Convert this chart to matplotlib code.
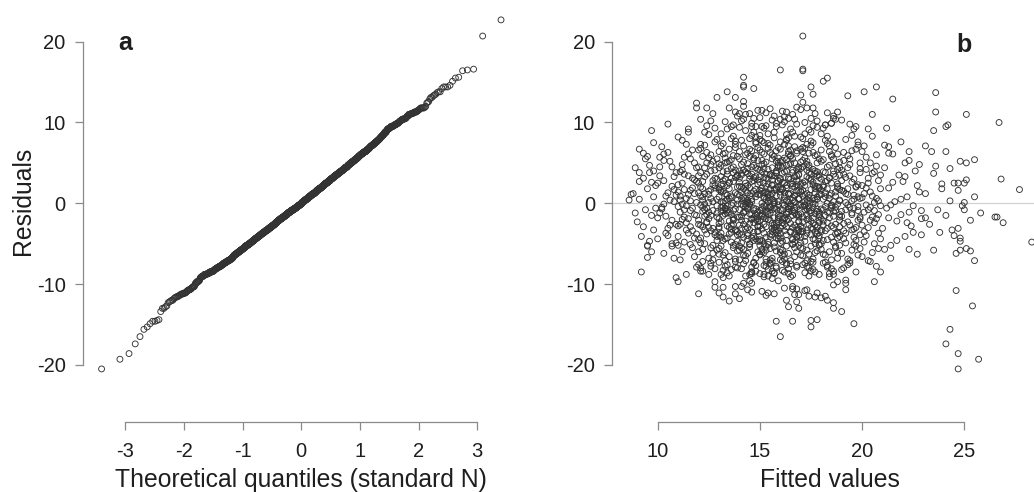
import matplotlib
matplotlib.use("Agg")
import matplotlib.pyplot as plt
from statistics import NormalDist

plt.rcParams['font.family'] = ['Liberation Sans', 'DejaVu Sans']

# Model diagnostics: (fitted value, residual) pairs, both stored in tenths.
cloud_09 = [
    (88, 12), (90, -23), (91, 5), (92, -41), (93, 31), (94, -8), (95, 18), (95, -52), (96, 47), (97, -15),
    (97, 26), (98, -33), (98, 8), (99, -6), (93, -29), (96, 38), (89, -12), (99, 22), (94, 55), (97, -60),
]
cloud_10 = [
    (100, -18), (101, 34), (102, -5), (103, 61), (104, -37), (105, 13), (106, -27), (107, 45), (108, 2), (109, -49),
    (100, 25), (101, -12), (102, 70), (103, -62), (104, 9), (105, -31), (106, 52), (107, -21), (108, 17), (109, 38),
    (100, -44), (102, -7), (103, 28), (104, -16), (105, 63), (106, 4), (107, -53), (108, 33), (109, -26), (101, 57),
    (103, -1), (105, -40), (107, 21), (108, -68), (109, 10),
]
cloud_11 = [
    (110, 14), (111, -26), (112, 48), (113, -8), (114, 73), (115, -37), (116, 3), (117, -55), (118, 29), (119, -15),
    (110, -41), (111, 9), (112, -20), (113, 36), (114, -3), (115, 61), (116, -29), (117, 19), (118, -66), (119, 44),
    (110, 82), (111, -11), (112, 25), (113, -48), (114, 6), (115, -19), (116, 55), (117, -34), (118, 12), (119, -79),
    (110, -4), (111, 39), (112, -60), (113, 17), (114, -24), (115, 92), (116, -9), (117, 31), (118, -43), (119, 1),
    (110, 23), (111, -70), (112, -1), (113, 57), (114, -33), (115, 11), (116, -51), (117, 66), (118, -14), (119, 27),
    (110, -28), (111, 4), (112, 41), (113, -17), (114, -88), (115, 34), (116, 16), (117, -6), (118, 50), (119, -38),
]
cloud_12 = [
    (120, 25), (121, -49), (122, 4), (123, -16), (124, 63), (125, -88), (126, 17), (127, -31), (128, 41), (129, -3),
    (120, -60), (121, 104), (122, -10), (123, 33), (124, -24), (125, 11), (126, -74), (127, 52), (128, -39), (129, 79),
    (120, -21), (121, 9), (122, -57), (123, 44), (124, -6), (125, 85), (126, -34), (127, 2), (128, -81), (129, 30),
    (120, 66), (121, -43), (122, 27), (123, -8), (124, 96), (125, -19), (126, 48), (127, -70), (128, 19), (129, -46),
    (120, 13), (121, -27), (122, 58), (123, -1), (124, 36), (125, -68), (126, 6), (127, -52), (128, 22), (129, -12),
    (120, -112), (121, 38), (122, -29), (123, 72), (124, -14), (125, 15), (126, -55), (127, 111), (128, -36), (129, 55),
    (120, -45), (121, 20), (122, -5), (123, 88), (124, -23), (125, 1), (126, 60), (127, -62), (128, 31), (129, -17),
    (120, 45), (121, -84), (122, 8), (123, -33), (124, 50), (125, -11), (126, -78), (127, 23), (128, 93), (129, -41),
    (120, 34), (121, -2), (122, -72), (123, 12), (124, -38), (125, 56), (126, -15), (127, 28), (128, -104), (129, 5),
    (120, -26), (121, 68), (122, 18), (123, -50), (124, 118), (125, -30), (126, 40), (127, -9), (128, 76), (129, -58),
]
cloud_13 = [
    (130, -40), (131, 16), (132, -83), (133, 3), (134, 51), (135, -22), (136, 95), (137, -9), (138, 32), (139, -59),
    (130, 64), (131, -5), (132, 24), (133, -71), (134, 10), (135, -30), (136, 43), (137, -18), (138, 77), (139, -47),
    (130, 8), (131, -53), (132, 39), (133, -13), (134, -76), (135, 26), (136, -2), (137, 83), (138, -34), (139, 20),
    (130, -25), (131, 47), (132, -64), (133, 101), (134, -12), (135, 6), (136, -36), (137, 59), (138, -79), (139, 35),
    (130, -29), (131, 71), (132, 1), (133, -44), (134, 22), (135, -90), (136, 54), (137, -20), (138, 13), (139, 108),
    (130, -56), (131, 14), (132, -4), (133, 30), (134, -43), (135, 67), (136, -27), (137, 45), (138, -7), (139, -80),
    (130, 49), (131, -10), (132, 28), (133, -61), (134, 5), (135, -38), (136, 80), (137, -21), (138, 41), (139, -1),
    (130, -73), (131, 33), (132, -15), (133, 62), (134, -86), (135, 18), (136, -32), (137, 97), (138, -51), (139, 11),
    (130, 19), (131, -42), (132, 74), (133, -6), (134, 36), (135, -66), (136, 9), (137, -26), (138, 113), (139, -17),
    (130, -31), (131, 2), (132, -116), (133, 56), (134, -8), (135, 25), (136, -48), (137, 38), (138, -69), (139, 58),
    (130, -19), (131, 86), (132, -46), (133, 12), (134, -3), (135, 52), (136, -82), (137, 27), (138, -33), (139, 4),
    (130, 44), (131, -23), (132, 15), (133, -78), (134, 92), (135, -11), (136, 31), (137, -55), (138, 69), (139, -39),
    (130, -63), (131, 23), (132, -9), (133, 50), (134, -28), (135, 118), (136, -14), (137, 0), (138, -72), (139, 34),
    (130, 17), (131, -37), (132, 61), (133, -7), (134, 40), (135, -121), (136, 7), (137, -52), (138, 73), (139, -35),
]
cloud_14 = [
    (140, 55), (141, -16), (142, 3), (143, -65), (144, 22), (145, -2), (146, 99), (147, -41), (148, 12), (149, -28),
    (140, -70), (141, 35), (142, -11), (143, 60), (144, -45), (145, 19), (146, -20), (147, 88), (148, -77), (149, 42),
    (140, -8), (141, 48), (142, -57), (143, 16), (144, -107), (145, 30), (146, 5), (147, -36), (148, 76), (149, -19),
    (140, 26), (141, -81), (142, 104), (143, -4), (144, 37), (145, -50), (146, 65), (147, -24), (148, 8), (149, -34),
    (140, 10), (141, -39), (142, 71), (143, -22), (144, 1), (145, -88), (146, 45), (147, -6), (148, 33), (149, -60),
    (140, -53), (141, 20), (142, -12), (143, 110), (144, -30), (145, 58), (146, -14), (147, 28), (148, -68), (149, 53),
    (140, -27), (141, 6), (142, -75), (143, 39), (144, -7), (145, 67), (146, -43), (147, 15), (148, -84), (149, 24),
    (140, 94), (141, -1), (142, 51), (143, -32), (144, 13), (145, -54), (146, 36), (147, -18), (148, 82), (149, -47),
    (140, -38), (141, 78), (142, -3), (143, 21), (144, -62), (145, 9), (146, -110), (147, 47), (148, -15), (149, 115),
    (140, 31), (141, -49), (142, 18), (143, -10), (144, 62), (145, -25), (146, 2), (147, -73), (148, 44), (149, -35),
    (140, 64), (141, -21), (142, 41), (143, -90), (144, 4), (145, -51), (146, 27), (147, -9), (148, 74), (149, -29),
    (140, -58), (141, 14), (142, -42), (143, 90), (144, -5), (145, 34), (146, -79), (147, 56), (148, -20), (149, 11),
    (140, -17), (141, 102), (142, -64), (143, 25), (144, -37), (145, 0), (146, -85), (147, 32), (148, -7), (149, 69),
    (140, 40), (141, -31), (142, 7), (143, -71), (144, 49), (145, -13), (146, 84), (147, -46), (148, 17), (149, -23),
    (140, 21), (141, -55), (142, 120), (143, -1), (144, 43), (145, -33), (146, 12), (147, -74), (148, 59), (149, -11),
    (140, -118), (141, 37), (142, -26), (143, 6), (144, -40), (145, 80), (146, -19), (147, 54), (148, -44), (149, 29),
]
cloud_15 = [
    (150, 41), (151, -8), (152, 75), (153, -29), (154, 2), (155, -56), (156, 23), (157, -87), (158, 17), (159, -40),
    (150, -15), (151, 63), (152, -3), (153, 96), (154, -48), (155, 10), (156, -72), (157, 34), (158, -24), (159, 50),
    (150, -63), (151, 19), (152, -37), (153, 5), (154, 86), (155, -21), (156, 55), (157, -1), (158, -80), (159, 27),
    (150, 106), (151, -46), (152, 13), (153, -69), (154, 30), (155, -12), (156, 60), (157, -33), (158, 38), (159, -18),
    (150, 26), (151, -109), (152, 8), (153, -42), (154, 68), (155, -5), (156, 44), (157, -27), (158, 99), (159, -10),
    (150, -52), (151, 15), (152, -77), (153, 36), (154, -14), (155, 72), (156, -31), (157, 1), (158, -59), (159, 47),
    (150, -9), (151, 39), (152, -61), (153, 112), (154, -20), (155, 4), (156, -84), (157, 58), (158, -36), (159, 20),
    (150, 79), (151, -16), (152, 32), (153, -53), (154, 11), (155, -75), (156, 22), (157, -6), (158, 52), (159, -34),
    (150, -45), (151, 0), (152, 93), (153, -19), (154, 42), (155, -70), (156, 12), (157, -30), (158, 65), (159, -2),
    (150, 16), (151, -57), (152, 49), (153, -11), (154, -90), (155, 35), (156, -25), (157, 81), (158, -43), (159, 28),
    (150, 66), (151, -32), (152, 6), (153, -73), (154, 24), (155, -4), (156, 103), (157, -49), (158, 9), (159, -23),
    (150, -64), (151, 53), (152, -17), (153, 31), (154, -82), (155, 18), (156, -39), (157, 88), (158, -7), (159, 45),
    (150, -28), (151, 77), (152, -50), (153, 14), (154, -6), (155, 117), (156, -35), (157, 3), (158, -78), (159, 56),
    (150, 33), (151, -13), (152, 61), (153, -114), (154, 7), (155, -41), (156, 29), (157, -54), (158, 37), (159, -20),
    (150, 11), (151, -60), (152, 25), (153, -3), (154, 74), (155, -38), (156, 5), (157, -86), (158, 40), (159, -15),
    (150, -47), (151, 95), (152, -26), (153, 51), (154, -10), (155, 36), (156, -68), (157, 17), (158, -29), (159, 69),
    (150, -22), (151, 48), (152, -88), (153, 21), (154, -51), (155, 63), (156, -8), (157, 108), (158, -33), (159, 2),
    (150, 84), (151, -5), (152, 43), (153, -58), (154, 13), (155, -74), (156, 34), (157, -18), (158, 19), (159, -44),
]
cloud_16 = [
    (160, -31), (161, 53), (162, -2), (163, 78), (164, -62), (165, 24), (166, -89), (167, 9), (168, 42), (169, -14),
    (160, 18), (161, -47), (162, 101), (163, -11), (164, 30), (165, -71), (166, 4), (167, -38), (168, 62), (169, -23),
    (160, 67), (161, -9), (162, 39), (163, -76), (164, 1), (165, -36), (166, 110), (167, -27), (168, 15), (169, -52),
    (160, -57), (161, 26), (162, -19), (163, 85), (164, -81), (165, 12), (166, -30), (167, 50), (168, -5), (169, 36),
    (160, 10), (161, -65), (162, 73), (163, -21), (164, 48), (165, -1), (166, -106), (167, 33), (168, -42), (169, 6),
    (160, -16), (161, 97), (162, -34), (163, 22), (164, -7), (165, 59), (166, -45), (167, 20), (168, -79), (169, 45),
    (160, -49), (161, 17), (162, -85), (163, 3), (164, 64), (165, -25), (166, 41), (167, -12), (168, 119), (169, -40),
    (160, 31), (161, -72), (162, 8), (163, -29), (164, 81), (165, -4), (166, 55), (167, -55), (168, 28), (169, -17),
    (160, 76), (161, -24), (162, 25), (163, -53), (164, 11), (165, -91), (166, 38), (167, -6), (168, -60), (169, 16),
    (160, -37), (161, 0), (162, -69), (163, 47), (164, -20), (165, 92), (166, -10), (167, 70), (168, -33), (169, 35),
    (160, -8), (161, 44), (162, -63), (163, 19), (164, -87), (165, 58), (166, -15), (167, 104), (168, -41), (169, 5),
    (160, 52), (161, -28), (162, 13), (163, -74), (164, 32), (165, -3), (166, 88), (167, -48), (168, 23), (169, -32),
    (160, -43), (161, 114), (162, -18), (163, 40), (164, -7), (165, 66), (166, -51), (167, 2), (168, -77), (169, 27),
    (160, 14), (161, -58), (162, 56), (163, -13), (164, 71), (165, -35), (166, 7), (167, -113), (168, 34), (169, -22),
    (160, 29), (161, -83), (162, 4), (163, -39), (164, 61), (165, -16), (166, 21), (167, -66), (168, 98), (169, -2),
    (160, -70), (161, 37), (162, -26), (163, 79), (164, -11), (165, 49), (166, -50), (167, 10), (168, -30), (169, 43),
    (160, -61), (161, 18), (162, -105), (163, 54), (164, -4), (165, 30), (166, -44), (167, 83), (168, -14), (169, 6),
    (160, 46), (161, -20), (162, 107), (163, -46), (164, 12), (165, -75), (166, 24), (167, -9), (168, 65), (169, -34),
]
cloud_17 = [
    (170, 51), (171, -17), (172, 100), (173, -37), (174, 3), (175, -72), (176, 26), (177, -1), (178, 60), (179, -24),
    (170, -49), (171, 16), (172, -86), (173, 33), (174, -10), (175, 77), (176, -32), (177, 40), (178, -59), (179, 11),
    (170, -13), (171, 64), (172, -41), (173, 5), (174, -90), (175, 36), (176, -5), (177, 111), (178, -29), (179, 20),
    (170, 82), (171, -56), (172, 22), (173, -78), (174, 47), (175, -12), (176, 42), (177, -27), (178, 8), (179, -52),
    (170, 15), (171, -35), (172, 68), (173, -7), (174, 31), (175, -84), (176, 0), (177, -45), (178, 94), (179, -21),
    (170, -64), (171, 45), (172, -3), (173, 73), (174, -19), (175, 28), (176, -69), (177, 13), (178, -38), (179, 55),
    (170, -42), (171, 9), (172, -74), (173, 48), (174, -6), (175, 105), (176, -25), (177, 18), (178, -111), (179, 35),
    (170, 24), (171, -31), (172, 86), (173, -15), (174, 62), (175, -53), (176, 6), (177, -61), (178, 39), (179, -11),
    (170, 116), (171, -23), (172, 2), (173, -58), (174, 44), (175, -9), (176, 75), (177, -36), (178, 21), (179, -88),
    (170, -2), (171, 53), (172, -47), (173, 12), (174, -80), (175, 30), (176, -18), (177, 59), (178, -34), (179, 19),
    (170, -28), (171, 80), (172, -8), (173, 41), (174, -63), (175, 17), (176, -82), (177, 4), (178, 50), (179, -40),
    (170, 67), (171, -4), (172, 27), (173, -71), (174, 10), (175, -30), (176, 96), (177, -50), (178, 34), (179, -14),
    (170, -55), (171, 25), (172, -108), (173, 1), (174, 38), (175, -22), (176, 63), (177, -13), (178, 102), (179, -43),
    (170, 14), (171, -76), (172, 56), (173, -33), (174, 7), (175, 88), (176, -44), (177, 37), (178, -7), (179, -16),
    (170, 43), (171, -65), (172, 11), (173, -20), (174, 91), (175, -39), (176, 23), (177, -85), (178, 5), (179, -51),
    (170, -35), (171, 69), (172, -3), (173, 52), (174, -26), (175, 72), (176, -73), (177, 21), (178, -10), (179, 32),
]
cloud_18 = [
    (180, -33), (181, 54), (182, -4), (183, 74), (184, -60), (185, 25), (186, -84), (187, 9), (188, 42), (189, -21),
    (180, 16), (181, -46), (182, 97), (183, -11), (184, 31), (185, -70), (186, 2), (187, -38), (188, 61), (189, -17),
    (180, 66), (181, -8), (182, 38), (183, -77), (184, 6), (185, -42), (186, 108), (187, -26), (188, 19), (189, -52),
    (180, -57), (181, 22), (182, -15), (183, 83), (184, -91), (185, 12), (186, -30), (187, 49), (188, -1), (189, 35),
    (180, 11), (181, -63), (182, 78), (183, -24), (184, 47), (185, -6), (186, -88), (187, 33), (188, -36), (189, 3),
    (180, -19), (181, 93), (182, -34), (183, 28), (184, -12), (185, 58), (186, -48), (187, 14), (188, -68), (189, 44),
    (180, -50), (181, 20), (182, -115), (183, 0), (184, 64), (185, -28), (186, 40), (187, -9), (188, 113), (189, -41),
    (180, 30), (181, -74), (182, 8), (183, -31), (184, 71), (185, -2), (186, 55), (187, -55), (188, 24), (189, -14),
    (180, 86), (181, -22), (182, 27), (183, -45), (184, 10), (185, -81), (186, 36), (187, -5), (188, -61), (189, 17),
    (180, -35), (181, 5), (182, -73), (183, 45), (184, -18), (185, 99), (186, -10), (187, 69), (188, -43), (189, 51),
    (180, -7), (181, 39), (182, -64), (183, 18), (184, -87), (185, 60), (186, -16), (187, 104), (188, -37), (189, 4),
    (180, 52), (181, -27), (182, 13), (183, -79), (184, 32), (185, -3), (186, 76), (187, -53), (188, 21), (189, -29),
]
cloud_19 = [
    (190, 41), (191, -25), (192, 79), (193, -2), (194, 34), (195, -58), (196, 10), (197, -85), (198, 23), (199, -39),
    (190, -16), (191, 63), (192, -49), (193, 18), (194, -71), (195, 3), (196, -32), (197, 95), (198, -9), (199, 50),
    (190, -62), (191, 15), (192, -107), (193, 44), (194, -5), (195, 26), (196, -42), (197, 67), (198, -21), (199, 6),
    (190, 103), (191, -34), (192, 12), (193, -76), (194, 55), (195, -12), (196, 30), (197, -46), (198, 72), (199, -19),
    (190, 28), (191, -44), (192, 1), (193, -69), (194, 48), (195, -14), (196, 92), (197, -30), (198, 8), (199, -56),
    (190, -82), (191, 36), (192, -8), (193, 59), (194, -27), (195, 84), (196, -51), (197, 20), (198, -4), (199, 38),
    (190, -10), (191, 53), (192, -37), (193, 11), (194, -74), (195, 65), (196, -6), (197, 21), (198, -64), (199, 43),
    (190, 16), (191, -80), (192, 32), (193, -23), (194, 98), (195, -33), (196, 5), (197, -53), (198, 76), (199, -17),
]
cloud_20 = [
    (200, 22), (201, -35), (202, 57), (203, -8), (204, 14), (205, -61), (206, 39), (207, -19), (208, 3), (209, -44),
    (200, -27), (201, 71), (202, -2), (203, 31), (204, -72), (205, 9), (206, -50), (207, 46), (208, -14), (209, 18),
    (200, 64), (201, -11), (202, -40), (203, 25), (204, -5), (205, 83), (206, -24), (207, 6), (208, -56), (209, 35),
    (200, -66), (201, 12), (202, 42), (203, -30), (204, 50), (205, -17), (206, 1), (207, -78), (208, 28), (209, -3),
    (200, 7), (201, -48), (202, 19), (203, 92), (204, -21), (205, 37), (206, -9), (207, 60), (208, -37), (209, -85),
]
cloud_21 = [
    (210, -31), (211, 44), (212, -6), (213, 19), (214, -52), (215, 61), (216, 2), (217, -22), (218, 35), (219, -14),
    (220, 27), (221, -41), (222, 8), (223, 53), (224, -28), (225, -3), (226, 40), (227, -63), (228, 14), (229, -9),
    (211, 72), (213, -18), (215, 26), (217, -46), (219, 5), (221, 33), (223, -11), (225, -36), (227, 22), (228, 48),
    (214, -2), (222, -24),
]
cloud_23 = [
    (231, 12), (233, -26), (235, 37), (237, -8), (239, 24), (241, -15), (243, 3), (245, -40), (247, 16), (249, -3),
    (251, 29), (253, -21), (255, 8), (236, 46), (244, -33), (248, 52), (258, -12),
]
upper_tail = [
    (171, 207), (160, 165), (171, 166), (171, 164), (142, 156), (142, 146), (142, 144), (147, 142), (175, 144),
    (176, 135), (181, 151), (183, 155), (193, 133), (201, 138), (207, 144), (215, 129), (236, 137), (236, 113),
    (251, 110), (267, 100), (268, 30), (277, 17), (255, 54), (251, 50), (250, 25), (241, 64), (241, 95), (242, 97),
    (235, 90), (231, 71), (234, 64), (219, 76), (223, 64), (221, 50), (212, 93), (213, 70), (213, 62), (205, 110),
    (250, 1), (243, 43), (245, 25), (247, 25), (239, 18),
]
left_edge = [
    (86, 4), (87, 11), (89, 44), (91, 38), (91, 27), (91, 67), (93, 62), (95, 58), (97, 90), (98, 75), (105, 98),
    (98, 40), (101, 45), (103, 53), (119, 124), (119, 118), (129, 131), (126, 102), (121, 73), (115, 88), (112, 78),
    (134, 138), (138, 131), (140, 111), (142, 126), (145, 111), (147, 105), (146, 95), (148, 95), (151, 115),
    (160, 104), (163, 113), (164, 105), (170, 134), (171, 125), (173, 118), (176, 118), (183, 112), (186, 105),
    (185, 99), (182, 97), (158, 95),
]
lower_tail = [
    (92, -85), (95, -67), (95, -53), (96, -47), (109, -92), (110, -97), (107, -50), (110, -52), (120, -76),
    (121, -80), (122, -84), (128, -97), (131, -88), (132, -92), (130, -111), (132, -104), (138, -103), (138, -112),
    (141, -103), (142, -99), (146, -85), (146, -87), (145, -96), (146, -99), (150, -87), (152, -91), (153, -78),
    (154, -111), (157, -112), (156, -93), (159, -96), (158, -146), (160, -165), (163, -120), (164, -128),
    (166, -146), (169, -130), (168, -122), (169, -113), (166, -103), (168, -106), (173, -107), (174, -115),
    (175, -145), (175, -153), (177, -116), (180, -117), (183, -120), (186, -123), (186, -130), (190, -134),
    (178, -144), (196, -149), (192, -99), (192, -95), (188, -97), (186, -101), (206, -97), (203, -71), (211, -57),
    (214, -68), (223, -57), (235, -58), (246, -108), (254, -127), (243, -156), (241, -174), (247, -186),
    (247, -205), (257, -193), (246, -62), (248, -58), (251, -56), (253, -59), (255, -71), (247, -31), (248, -43),
    (238, -36), (229, -39), (229, -19), (231, -18), (248, -47),
]
far_right = [(283, -48), (265, -17), (266, -17), (269, -24), (250, -8), (301, 227)]

residual_ticks = [-20, -10, 0, 10, 20]
quantile_ticks = [-3, -2, -1, 0, 1, 2, 3]
fitted_ticks = [10, 15, 20, 25]

groups = [cloud_09, cloud_10, cloud_11, cloud_12, cloud_13, cloud_14, cloud_15, cloud_16, cloud_17,
          cloud_18, cloud_19, cloud_20, cloud_21, cloud_23, upper_tail, left_edge, lower_tail, far_right]
points = [p for g in groups for p in g]
fitted = [f / 10 for f, r in points]
resid = [r / 10 for f, r in points]

# normal QQ: sorted residuals against standard normal quantiles
n = len(resid)
sample_q = sorted(resid)
theory_q = [NormalDist().inv_cdf((i + 0.5) / n) for i in range(n)]

W, H = 1034, 492
fig = plt.figure(figsize=(W / 100, H / 100), dpi=100)
fig.patch.set_facecolor('white')


def axes_px(left, right, top, bottom):
    return fig.add_axes([left / W, 1 - bottom / H, (right - left) / W, (bottom - top) / H])


axis_grey = '#8a8a8a'
ink = '#1e1e1e'
marker_kw = dict(s=18, facecolors='none', edgecolors='#333333', linewidths=0.65)

ax_a = axes_px(82.7, 518.9, 0, 421.7)
ax_a.set_xlim(-3.726, 3.709)
ax_a.set_ylim(-27.03, 25.16)
ax_a.scatter(theory_q, sample_q, **marker_kw)

ax_b = axes_px(612.3, 1047.7, 0, 421.7)
ax_b.set_xlim(7.779, 29.08)
ax_b.set_ylim(-27.03, 25.16)
ax_b.axhline(0, color='#d2d2d2', lw=0.9, zorder=0)
ax_b.scatter(fitted, resid, **marker_kw)

for ax, xt in ((ax_a, quantile_ticks), (ax_b, fitted_ticks)):
    ax.patch.set_visible(False)
    for side in ('top', 'right'):
        ax.spines[side].set_visible(False)
    ax.spines['left'].set_bounds(residual_ticks[0], residual_ticks[-1])
    ax.spines['bottom'].set_bounds(xt[0], xt[-1])
    for side in ('left', 'bottom'):
        ax.spines[side].set_color(axis_grey)
        ax.spines[side].set_linewidth(0.9)
    ax.set_xticks(xt)
    ax.set_xticklabels([str(v) for v in xt])
    ax.set_yticks(residual_ticks)
    ax.set_yticklabels([str(v) for v in residual_ticks])
    ax.tick_params(direction='out', length=5.8, width=0.9, color=axis_grey,
                   labelsize=14.5, labelcolor=ink)
    ax.tick_params(axis='y', pad=6.5)
    ax.tick_params(axis='x', pad=8.5)


def fig_text(x, y, s, **kw):
    fig.text(x / W, 1 - y / H, s, color=ink, **kw)


fig_text(300.8, 486.7, 'Theoretical quantiles (standard N)', ha='center', va='baseline', fontsize=17.8)
fig_text(830, 486.7, 'Fitted values', ha='center', va='baseline', fontsize=17.8)
fig_text(23.5, 201, 'Residuals', ha='center', va='center', rotation=90, fontsize=17.8)
fig_text(118, 50.5, 'a', ha='left', va='baseline', fontsize=18, fontweight='bold')
fig_text(956.5, 52, 'b', ha='left', va='baseline', fontsize=18, fontweight='bold')

fig.savefig('out.png', dpi=100, facecolor='white')
